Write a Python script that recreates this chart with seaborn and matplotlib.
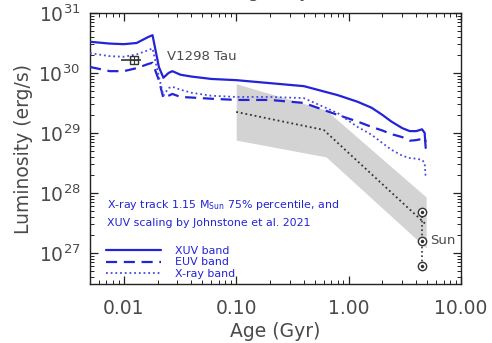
import numpy as np
import pandas as pd
import matplotlib
matplotlib.use("Agg")
import matplotlib.pyplot as plt
import seaborn as sns
from matplotlib.ticker import FixedLocator, LogLocator, NullFormatter, FixedFormatter

# ---- data ----
age = [0.005, 0.0075, 0.01, 0.013, 0.0165, 0.018, 0.0205, 0.0225, 0.025, 0.027,
       0.032, 0.04, 0.06, 0.1, 0.2, 0.4, 0.8, 1.2, 1.6, 2.0, 2.4, 3.0, 3.5, 4.0,
       4.5, 4.75, 4.85]
log_xuv = [30.52, 30.49, 30.48, 30.50, 30.60, 30.63, 30.10, 29.92, 30.00, 30.03,
           29.97, 29.94, 29.90, 29.88, 29.83, 29.78, 29.63, 29.52, 29.42, 29.30,
           29.19, 29.08, 29.03, 29.03, 29.06, 29.00, 28.75]
log_euv = [30.10, 30.03, 30.03, 30.08, 30.15, 30.17, 29.88, 29.58, 29.62, 29.65,
           29.60, 29.59, 29.57, 29.55, 29.55, 29.50, 29.30, 29.19, 29.10, 29.04,
           28.98, 28.93, 28.87, 28.88, 28.90, 28.92, 28.85]
log_xray = [30.33, 30.28, 30.27, 30.31, 30.38, 30.41, 29.94, 29.62, 29.75, 29.77,
            29.72, 29.67, 29.62, 29.60, 29.60, 29.58, 29.33, 29.10, 28.97, 28.83,
            28.72, 28.62, 28.58, 28.57, 28.55, 28.50, 28.25]

band_age = [0.1, 0.63, 4.9]
band_top = [29.82, 29.38, 27.93]
band_bot = [28.88, 28.60, 27.08]

median_age = [0.1, 0.6, 4.9]
median_log = [29.35, 29.05, 27.47]

sun_age = [4.5, 4.5, 4.5]
sun_log = [27.68, 27.20, 26.78]

v1298_age = 0.0123
v1298_age_lo = 0.0094
v1298_age_hi = 0.0141
v1298_log = 30.22

xtick_vals = [0.01, 0.1, 1.0, 10.0]
xtick_labels = ["0.01", "0.10", "1.00", "10.00"]
ytick_exps = [27, 28, 29, 30, 31]

band_names = ["XUV band", "EUV band", "X-ray band"]

# ---- style ----
sns.set_style("ticks")
plt.rcParams["font.family"] = ["DejaVu Sans"]
plt.rcParams["mathtext.default"] = "regular"

BLUE = "#2323d8"
GRAY = "#4a4a4a"

fig = plt.figure(figsize=(4.92, 3.43), dpi=100)
ax = fig.add_axes([90 / 492, 1 - 284 / 343, 371 / 492, 271 / 343])

# grey band
ax.fill_between(band_age, 10 ** np.array(band_bot), 10 ** np.array(band_top),
                color="#d3d3d3", lw=0, zorder=1)

# tracks
df = pd.DataFrame({"age": age,
                   "XUV band": 10 ** np.array(log_xuv),
                   "EUV band": 10 ** np.array(log_euv),
                   "X-ray band": 10 ** np.array(log_xray)})
styles = {"XUV band": ("-", 1.6, BLUE),
          "EUV band": ((0, (5, 3)), 1.6, BLUE),
          "X-ray band": ((0, (1, 1.6)), 1.3, "#4848e0")}
for name in band_names:
    ls, lw, c = styles[name]
    sns.lineplot(data=df, x="age", y=name, ax=ax, color=c, lw=lw, linestyle=ls,
                 estimator=None, sort=False, label=name, zorder=3)

# median dotted black
sns.lineplot(x=median_age, y=10 ** np.array(median_log), ax=ax, color="#333333",
             lw=1.3, linestyle=(0, (1, 1.6)), estimator=None, sort=False,
             legend=False, zorder=2)

# Sun symbols
ax.plot(sun_age, 10 ** np.array(sun_log), color="#333333", lw=1.2,
        linestyle=(0, (1, 1.6)), zorder=4)
ax.plot(sun_age, 10 ** np.array(sun_log), "o", ms=6, mfc="white", mec="#333333",
        mew=1.0, zorder=5)
ax.plot(sun_age, 10 ** np.array(sun_log), "o", ms=1.5, color="#333333", zorder=6)
ax.text(5.27, 10 ** 27.2, "Sun", color=GRAY, fontsize=9.5, va="center", ha="left")

# V1298 Tau
ax.errorbar([v1298_age], [10 ** v1298_log],
            xerr=[[v1298_age - v1298_age_lo], [v1298_age_hi - v1298_age]],
            fmt="s", ms=6, mfc="none", mec="#333333", ecolor="#333333",
            elinewidth=1.2, capsize=0, mew=1.0, zorder=6)
ax.plot([v1298_age], [10 ** v1298_log], "+", ms=6, color="#333333", mew=0.8, zorder=7)
ax.text(0.0244, 10 ** 30.27, "V1298 Tau", color=GRAY, fontsize=9.5, va="center", ha="left")

# scales
ax.set_xscale("log")
ax.set_yscale("log")
ax.set_xlim(0.005, 10.0)
ax.set_ylim(10 ** 26.48, 1e31)

ax.xaxis.set_major_locator(FixedLocator(xtick_vals))
ax.xaxis.set_major_formatter(FixedFormatter(xtick_labels))
ax.xaxis.set_minor_locator(LogLocator(base=10, subs=np.arange(2, 10)))
ax.xaxis.set_minor_formatter(NullFormatter())
yt = [10.0 ** e for e in ytick_exps]
ax.yaxis.set_major_locator(FixedLocator(yt))
ax.yaxis.set_major_formatter(FixedFormatter([f"$10^{{{e}}}$" for e in ytick_exps]))
ax.yaxis.set_minor_locator(LogLocator(base=10, subs=np.arange(2, 10)))
ax.yaxis.set_minor_formatter(NullFormatter())

ax.tick_params(which="both", direction="in", top=True, right=True, colors="#222222",
               labelcolor=GRAY)
ax.tick_params(which="major", length=6, width=0.9, labelsize=13.5, pad=7)
ax.tick_params(axis="x", which="major", pad=11)
ax.tick_params(which="minor", length=3, width=0.7)
for s in ax.spines.values():
    s.set_color("#222222")
    s.set_linewidth(1.0)

ax.set_xlabel("Age (Gyr)", fontsize=13.5, color=GRAY, labelpad=3)
ax.set_ylabel("Luminosity (erg/s)", fontsize=13.5, color=GRAY, labelpad=4)

# cropped top title (only its lowest part shows, as in the reference)
fig.text(280 / 492, 1 + 3 / 343, "Age (Gyr)", fontsize=13.5, color=GRAY,
         ha="center", va="baseline")

# annotation text
ax.text(17 / 371, (284 - 205) / 271, "X-ray track 1.15 M$_{Sun}$ 75% percentile, and",
        transform=ax.transAxes, color=BLUE, fontsize=7.9, va="center", ha="left")
ax.text(17 / 371, (284 - 223) / 271, "XUV scaling by Johnstone et al. 2021",
        transform=ax.transAxes, color=BLUE, fontsize=7.9, va="center", ha="left")

leg = ax.legend(loc="lower left", bbox_to_anchor=(16 / 371, 5 / 271), frameon=False,
                fontsize=7.9, handlelength=5.0, handletextpad=1.3, labelspacing=0.15,
                borderpad=0, borderaxespad=0, labelcolor=BLUE)

fig.savefig("out.png", dpi=100, facecolor="white")
